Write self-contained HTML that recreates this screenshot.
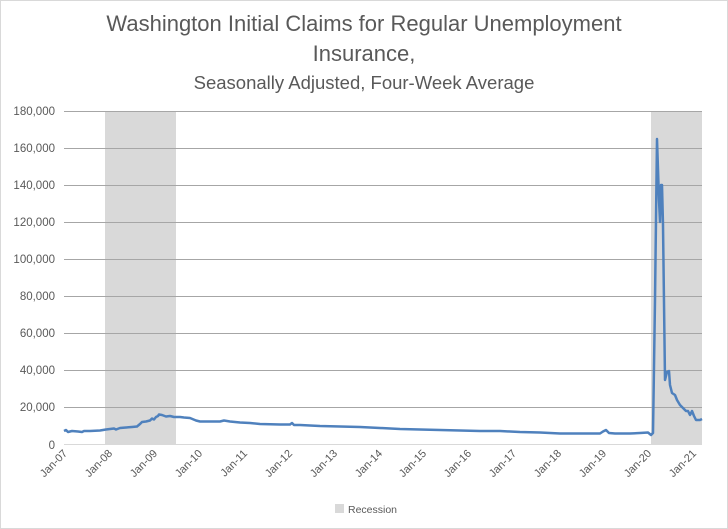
<!DOCTYPE html>
<html><head><style>
body{margin:0;background:#fff}
svg{display:block;font-family:"Liberation Sans",sans-serif}
</style></head><body>
<svg width="728" height="529" viewBox="0 0 728 529">
<rect x="0.5" y="0.5" width="727" height="528" fill="#fff" stroke="#d9d9d9"/>
<text x="364" y="31" font-size="22" fill="#595959" text-anchor="middle">Washington Initial Claims for Regular Unemployment</text>
<text x="364" y="61" font-size="22" fill="#595959" text-anchor="middle">Insurance,</text>
<text x="364" y="89" font-size="18.5" fill="#595959" text-anchor="middle">Seasonally Adjusted, Four-Week Average</text>
<rect x="105" y="111" width="71" height="334" fill="#d9d9d9"/>
<rect x="651" y="111" width="51" height="334" fill="#d9d9d9"/>
<g stroke="#a6a6a6" stroke-width="1">
<line x1="64" x2="702" y1="111.5" y2="111.5"/>
<line x1="64" x2="702" y1="148.5" y2="148.5"/>
<line x1="64" x2="702" y1="185.5" y2="185.5"/>
<line x1="64" x2="702" y1="222.5" y2="222.5"/>
<line x1="64" x2="702" y1="259.5" y2="259.5"/>
<line x1="64" x2="702" y1="296.5" y2="296.5"/>
<line x1="64" x2="702" y1="333.5" y2="333.5"/>
<line x1="64" x2="702" y1="370.5" y2="370.5"/>
<line x1="64" x2="702" y1="407.5" y2="407.5"/>
</g>
<line x1="64" x2="702" y1="444.5" y2="444.5" stroke="#d9d9d9"/>
<g font-size="11.5" fill="#595959" text-anchor="end">
<text x="55" y="115">180,000</text><text x="55" y="152">160,000</text><text x="55" y="189">140,000</text>
<text x="55" y="226">120,000</text><text x="55" y="263">100,000</text><text x="55" y="300">80,000</text>
<text x="55" y="337">60,000</text><text x="55" y="374">40,000</text><text x="55" y="411">20,000</text>
<text x="55" y="449">0</text>
</g>
<g font-size="11" fill="#595959" text-anchor="end">
<text transform="translate(68,454) rotate(-45)">Jan-07</text>
<text transform="translate(113,454) rotate(-45)">Jan-08</text>
<text transform="translate(158,454) rotate(-45)">Jan-09</text>
<text transform="translate(203,454) rotate(-45)">Jan-10</text>
<text transform="translate(248,454) rotate(-45)">Jan-11</text>
<text transform="translate(293,454) rotate(-45)">Jan-12</text>
<text transform="translate(338,454) rotate(-45)">Jan-13</text>
<text transform="translate(383,454) rotate(-45)">Jan-14</text>
<text transform="translate(427,454) rotate(-45)">Jan-15</text>
<text transform="translate(472,454) rotate(-45)">Jan-16</text>
<text transform="translate(517,454) rotate(-45)">Jan-17</text>
<text transform="translate(562,454) rotate(-45)">Jan-18</text>
<text transform="translate(607,454) rotate(-45)">Jan-19</text>
<text transform="translate(652,454) rotate(-45)">Jan-20</text>
<text transform="translate(697,454) rotate(-45)">Jan-21</text>
</g>
<polyline fill="none" stroke="#4f81bd" stroke-width="2.5" stroke-linejoin="round" points="
64,431 66,430 68,432 72,431 78,431.5 82,432 84,431 90,431 100,430.5 106,429.5 110,429 114,428.5 116,429.5 120,428 126,427.5 132,427 137,426.5 140,424 142,422 146,421.5 150,420.5 152,418.5 154,419.5 156,417 158,416 159,414.5 162,415 166,416.5 170,416 174,417 180,417 184,417.5 190,418 196,420.5 200,421.5 210,421.5 220,421.5 224,420.5 230,421.5 240,422.5 250,423 260,424 280,424.5 290,424.5 292,423 294,425 300,425 320,426 340,426.5 360,427 380,428 400,429 420,429.5 440,430 460,430.5 480,431 500,431 510,431.5 520,432 540,432.5 560,433.5 580,433.5 600,433.5 603,431.5 606,430 609,433 615,433.5 630,433.5 640,433 648,432.5 651,435 653,433 655,300 657,139 659,200 660,222 661,185 662,185 663,225 665,380 667,372 669,371 670,385 672,393 675,395 677,400 680,405 683,408 686,411 688,411 690,415 692,411 694,416 696,420 700,420 702,419"/>
<rect x="335" y="504" width="9" height="9" fill="#d9d9d9"/>
<text x="348" y="513" font-size="10.5" fill="#595959">Recession</text>
</svg>
</body></html>
